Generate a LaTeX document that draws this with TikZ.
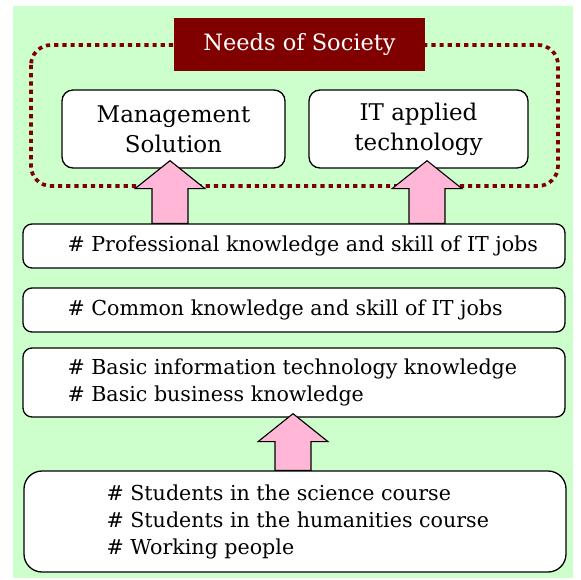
\documentclass[tikz,border=0pt]{standalone}
\usepackage{fontspec}
\setmainfont{DejaVu Serif}
\usetikzlibrary{calc}
\definecolor{bggreen}{RGB}{204,255,204}
\definecolor{darkred}{RGB}{128,0,0}
\definecolor{arrowpink}{RGB}{255,182,215}
\tikzstyle{needbox}=[fill=darkred,text=white,minimum width=251pt,minimum height=53pt,inner sep=0pt,font=\fontsize{22.5}{26}\selectfont]
\tikzstyle{topbox}=[draw=black,fill=white,rounded corners=11pt,line width=1.3pt,minimum height=78pt,inner sep=0pt,align=center,font=\fontsize{23}{30}\selectfont]
\tikzstyle{layerbox}=[draw=black,fill=white,rounded corners=9pt,line width=1.3pt,minimum width=542pt,inner sep=0pt]
\tikzstyle{layertext}=[anchor=west,align=left,inner sep=0pt,font=\fontsize{20.6}{27}\selectfont]
\tikzstyle{society}=[draw=darkred,line width=3.7pt,dash pattern=on 4.2pt off 4pt,rounded corners=20pt]
\tikzstyle{blockarrow}=[draw=black,fill=arrowpink,line width=1.1pt,line join=miter]

\begin{document}
\begin{tikzpicture}[x=1pt,y=-1pt]

    % Page and background
    \useasboundingbox (0,0) rectangle (580,580);
    \fill[bggreen] (13,6) rectangle (573,578);

    % Dotted frame round the needs
    \draw[society] (31,45) rectangle (558,186);
    \node[needbox] (needs) at (299.5,44.5) {Needs of Society};

    % The two needs
    \node[topbox, minimum width=223pt] (mgmt) at (173.5,129) {Management\\Solution};
    \node[topbox, minimum width=219pt] (itapp) at (418.5,129) {IT applied\\technology};

    % The layers of knowledge
    \node[layerbox, minimum height=44pt] (prof) at (294,246) {};
    \node[layerbox, minimum height=44pt] (common) at (294,310) {};
    \node[layerbox, minimum height=69pt] (basic) at (294,382.5) {};
    \node[layerbox, minimum height=101pt, rounded corners=18pt] (students) at (295,521.5) {};

    \node[layertext] (proftext) at ([xshift=45pt]prof.west) {\# Professional knowledge and skill of IT jobs};
    \node[layertext] (commontext) at ([xshift=45pt]common.west) {\# Common knowledge and skill of IT jobs};
    \node[layertext] (basictext) at ([xshift=45pt]basic.west) {\# Basic information technology knowledge\\\# Basic business knowledge};
    \node[layertext] (studentstext) at ([xshift=83pt]students.west) {\# Students in the science course\\\# Students in the humanities course\\\# Working people};

    % Block arrows from layer to layer
    \foreach \src/\dst/\xpos/\over in {prof/mgmt/170/8, prof/itapp/427/8, students/basic/293/4}
        \path[blockarrow] let \p1=(\dst.south), \p2=(\src.north) in
            ({\xpos*1pt-18pt},\y2) -- ({\xpos*1pt-18pt},\y1+\over pt-28pt)
            -- ({\xpos*1pt-35pt},\y1+\over pt-28pt) -- ({\xpos*1pt},\y1+\over pt)
            -- ({\xpos*1pt+35pt},\y1+\over pt-28pt) -- ({\xpos*1pt+18pt},\y1+\over pt-28pt)
            -- ({\xpos*1pt+18pt},\y2) -- cycle;

\end{tikzpicture}
\end{document}
